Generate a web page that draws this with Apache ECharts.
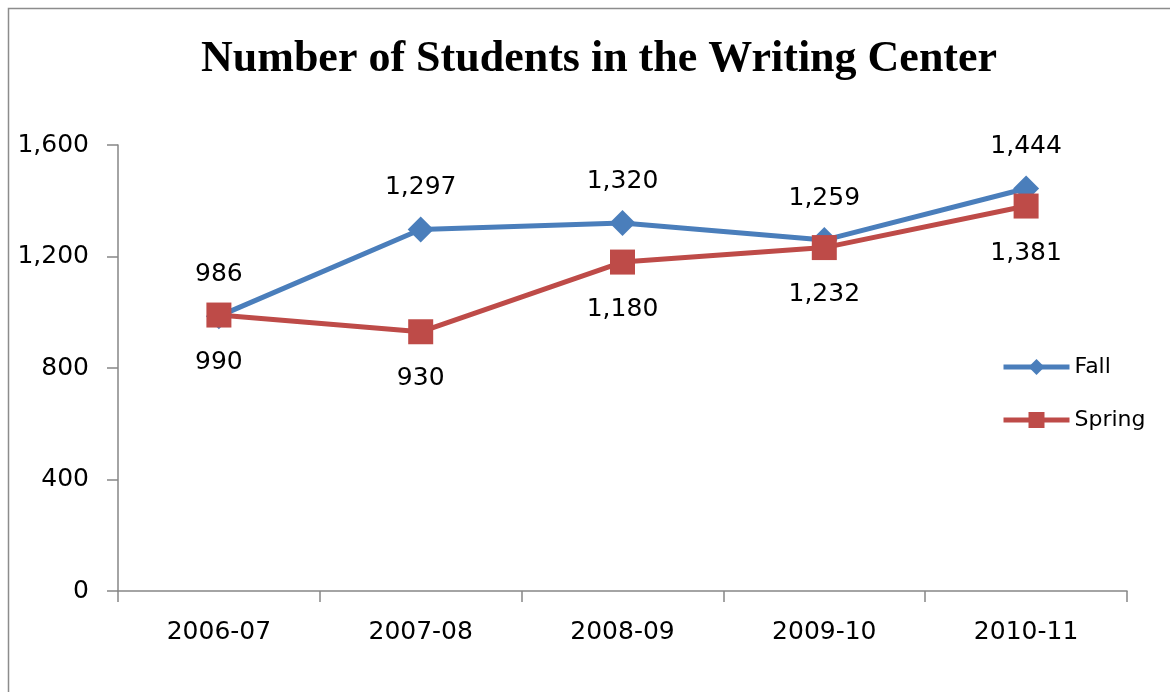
<!DOCTYPE html>
<html>
<head>
<meta charset="utf-8">
<script src="https://cdn.jsdelivr.net/npm/echarts@6/dist/echarts.min.js"></script>
<style>html,body{margin:0;padding:0;background:#fff}#c{width:1170px;height:692px}</style>
</head>
<body>
<div id="c"></div>
<script>
const categories = ['2006-07', '2007-08', '2008-09', '2009-10', '2010-11'];
const fallValues = [986, 1297, 1320, 1259, 1444];
const springValues = [990, 930, 1180, 1232, 1381];
const yTicks = { min: 0, max: 1600, interval: 400 };

const chart = echarts.init(document.getElementById('c'));
const fmt = v => v.toLocaleString('en-US');
const labelFont = { fontFamily: 'DejaVu Sans', fontSize: 25, color: '#000' };

chart.setOption({
  animation: false,
  backgroundColor: '#fff',
  graphic: [{
    type: 'rect', shape: { x: 8.5, y: 8.5, width: 1200, height: 720 },
    style: { fill: 'none', stroke: '#8c8c8c', lineWidth: 1.5 }, silent: true
  }],
  title: {
    text: 'Number of Students in the Writing Center',
    left: 196, top: 33,
    textStyle: { fontFamily: 'Liberation Serif', fontWeight: 'bold', fontSize: 44, color: '#000' }
  },
  legend: {
    orient: 'vertical', left: 996, top: 351, itemGap: 31,
    itemWidth: 66, itemHeight: 20,
    lineStyle: { width: 5 },
    textStyle: { fontFamily: 'DejaVu Sans', fontSize: 22, color: '#000' },
    data: ['Fall', 'Spring']
  },
  grid: { left: 118, right: 43, top: 145, bottom: 101 },
  xAxis: {
    type: 'category', data: categories, boundaryGap: true,
    axisLine: { lineStyle: { color: '#868686', width: 1.5 } },
    axisTick: { show: true, length: 11, lineStyle: { color: '#868686', width: 1.5 } },
    axisLabel: { margin: 29, ...labelFont }
  },
  yAxis: {
    type: 'value', min: yTicks.min, max: yTicks.max, interval: yTicks.interval,
    splitLine: { show: false },
    axisLine: { show: true, lineStyle: { color: '#868686', width: 1.5 } },
    axisTick: { show: true, length: 11, lineStyle: { color: '#868686', width: 1.5 } },
    axisLabel: { margin: 29, ...labelFont, formatter: v => fmt(v) }
  },
  series: [
    {
      name: 'Fall', type: 'line', data: fallValues,
      symbol: 'diamond', symbolSize: 26,
      lineStyle: { color: '#4A7EBB', width: 5 },
      itemStyle: { color: '#4A7EBB' },
      label: { show: true, position: 'top', distance: 16, formatter: p => fmt(p.value), ...labelFont }
    },
    {
      name: 'Spring', type: 'line', data: springValues,
      symbol: 'rect', symbolSize: 25,
      lineStyle: { color: '#BE4B48', width: 5 },
      itemStyle: { color: '#BE4B48' },
      label: { show: true, position: 'bottom', distance: 22, formatter: p => fmt(p.value), ...labelFont }
    }
  ]
});
</script>
</body>
</html>
